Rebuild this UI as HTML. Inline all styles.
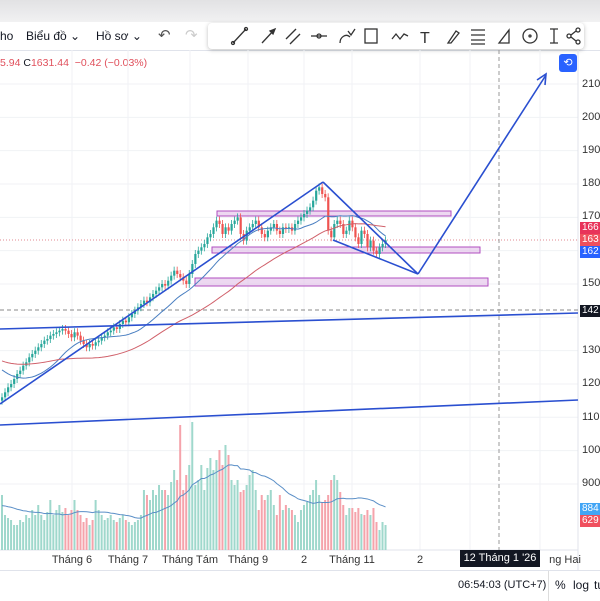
<!DOCTYPE html>
<html><head><meta charset="utf-8"><style>
body{margin:0;width:600px;height:600px;overflow:hidden;background:#fff;font-family:"Liberation Sans","Noto Sans CJK SC",sans-serif;position:relative}
.abs{position:absolute}
.ax{position:absolute;left:582px;font-size:11px;color:#333}
.badge{position:absolute;left:580px;width:22px;height:12px;font-size:10px;color:#fff;line-height:12px;padding-left:2px}
.xl{position:absolute;top:554px;font-size:11px;color:#333;transform:translateX(-50%)}
</style></head><body>
<div class="abs" style="left:0;top:0;width:600px;height:22px;background:linear-gradient(#e2e2e4,#f1f1f2)"></div>
<div class="abs" style="left:0;top:22px;width:600px;height:28px;background:#fff;border-bottom:1px solid #e0e3eb;font-size:12px;color:#131722">
 <span class="abs" style="left:0;top:7px">ho</span>
 <span class="abs" style="left:26px;top:7px">Biểu đồ ⌄</span>
 <span class="abs" style="left:96px;top:7px">Hồ sơ ⌄</span>
 <span class="abs" style="left:158px;top:4px;font-size:15px;color:#555">↶</span>
 <span class="abs" style="left:185px;top:4px;font-size:15px;color:#ccc">↷</span>
</div>
<div class="abs" style="left:208px;top:23px;width:376px;height:26px;background:#fff;border-radius:4px;box-shadow:0 1px 4px rgba(0,0,0,.25);font-size:16px;color:#333">
<svg width="376" height="26" stroke="#333" fill="none" stroke-width="1.3">
<g><line x1="25" y1="20" x2="38" y2="6"/><circle cx="25" cy="20" r="1.5"/><circle cx="38" cy="6" r="1.5"/></g>
<g><line x1="54" y1="20" x2="67" y2="6"/><path d="M62 8l5-2-2 5z" fill="#333"/></g>
<g><line x1="78" y1="16" x2="88" y2="6"/><line x1="82" y1="21" x2="92" y2="11"/></g>
<g><line x1="103" y1="13" x2="119" y2="13"/><circle cx="111" cy="13" r="2"/></g>
<g><path d="M132 20c0-6 6-10 10-6M140 8l3 4 4-6"/></g>
<g><rect x="157" y="6" width="12" height="14"/></g>
<g><path d="M184 16l4-5 4 5 4-5 4 2"/></g>
<g><text x="212" y="20" font-size="16" fill="#333" stroke="none">T</text></g>
<g><path d="M240 20l8-12 3 2-8 10z"/></g>
<g><path d="M263 7h14M263 12h14M263 17h14M263 21h14"/></g>
<g><path d="M291 20l10-13v13z"/></g>
<g><circle cx="322" cy="13" r="7"/><circle cx="322" cy="13" r="1"/></g>
<g><path d="M342 6h8M346 6v14M342 20h8"/></g>
<g><circle cx="361" cy="13" r="2"/><circle cx="370" cy="7" r="2"/><circle cx="370" cy="19" r="2"/><path d="M363 12l5-4M363 14l5 4"/></g>
</svg></div>
<div class="abs" style="left:0;top:57px;font-size:10.5px;color:#e0505c">5.94 <span style="color:#131722">C</span>1631.44 &nbsp;−0.42 (−0.03%)</div>
<div class="abs" style="left:559px;top:54px;width:18px;height:18px;background:#2962ff;border-radius:3px;color:#fff;font-size:11px;text-align:center;line-height:18px">⟲</div>

<svg id="chart" class="abs" style="left:0;top:0" width="600" height="600"></svg>

<div class="ax" style="top:78px">210</div><div class="ax" style="top:111px">200</div><div class="ax" style="top:144px">190</div><div class="ax" style="top:177px">180</div><div class="ax" style="top:210px">170</div><div class="ax" style="top:277px">150</div><div class="ax" style="top:344px">130</div><div class="ax" style="top:377px">120</div><div class="ax" style="top:411px">110</div><div class="ax" style="top:444px">100</div><div class="ax" style="top:477px">900</div>
<div class="badge" style="top:222px;background:#e8335a">166</div>
<div class="badge" style="top:234px;background:#f0505e">163</div>
<div class="badge" style="top:246px;background:#2962ff">162</div>
<div class="badge" style="top:305px;background:#131722">142</div>
<div class="badge" style="top:503px;background:#42a5f5">884</div>
<div class="badge" style="top:515px;background:#f0505e">629</div>

<div class="xl" style="left:72px">Tháng 6</div><div class="xl" style="left:128px">Tháng 7</div><div class="xl" style="left:190px">Tháng Tám</div><div class="xl" style="left:248px">Tháng 9</div><div class="xl" style="left:304px">2</div><div class="xl" style="left:352px">Tháng 11</div><div class="xl" style="left:420px">2</div>
<div class="xl" style="left:565px">ng Hai</div>
<div class="abs" style="left:460px;top:550px;width:80px;height:17px;background:#131722;color:#fff;font-size:11px;line-height:17px;text-align:center">12 Tháng 1 '26</div>
<div class="abs" style="left:0;top:570px;width:600px;height:30px;border-top:1px solid #e0e3eb;background:#fff;font-size:11px;color:#131722">
 <span class="abs" style="left:458px;top:8px">06:54:03 (UTC+7)</span>
 <span class="abs" style="left:548px;top:0;height:30px;border-left:1px solid #ddd"></span>
 <span class="abs" style="left:555px;top:7px;font-size:12px">%</span>
 <span class="abs" style="left:573px;top:7px;font-size:12px">log</span>
 <span class="abs" style="left:594px;top:7px;font-size:12px">tự</span>
</div>
<script>
const history=[1330,1335,1320,1310,1325,1330,1315,1300,1310,1320,1305,1295,1300,1290,1280,1285,1270,1275,1260,1250,1255,1240,1230,1235,1220,1210,1215,1200,1190,1180];
const closes=[1160,1175,1190,1200,1215,1230,1240,1255,1265,1280,1290,1300,1310,1320,1330,1335,1345,1350,1355,1360,1365,
1360,1350,1340,1355,1345,1330,1320,1310,1320,1315,1325,1330,
1340,1345,1355,1360,1370,1365,1380,1390,1385,1400,1410,1420,1430,1440,1450,1445,1460,1470,1480,1490,1500,1495,1510,1525,1540,1530,1520,1510,1500,1530,
1560,1590,1600,1610,1620,1640,1650,1670,1690,1680,
1650,1670,1660,1680,1690,1700,1650,1630,1660,1670,1680,1690,1670,1650,1640,1660,1670,1680,1660,1650,1670,1665,1670,1660,1680,1690,1700,1710,
1720,1730,1750,1780,1790,1770,1760,1660,1640,1680,
1690,1680,1650,1660,1690,1670,1640,1620,1660,1650,1610,1630,1600,1590,1610,1620,1631];
const volumes=[55,35,32,30,25,25,30,28,35,32,40,35,45,35,30,38,50,35,40,45,38,42,35,40,50,40,35,28,32,25,30,50,40,35,30,32,35,30,28,32,35,30,28,25,28,30,35,60,55,50,60,55,65,60,60,55,68,80,70,125,60,75,85,128,65,70,85,60,82,92,80,90,100,85,105,95,70,65,70,58,60,65,75,80,60,40,55,50,55,60,45,35,55,40,45,42,40,35,28,40,45,48,55,60,70,55,48,50,55,70,75,70,58,45,35,42,42,38,42,36,35,40,35,42,28,20,28,25];
const volHistory=[45,42,48,40,44,46,43,45,41,47,44,42,46,43,45,40,44,46,42,45];
const all=history.concat(closes);const H=history.length;
function ma(n,i){let s=0,c=0;for(let k=Math.max(0,H+i-n+1);k<=H+i;k++){s+=all[k];c++;}return s/c;}
const svg=document.getElementById('chart');const NS='http://www.w3.org/2000/svg';
const py=p=>84+(2100-p)*0.3333;
const xs=i=>2+i*3.02;
const vy=v=>550-v;
function mk(t,a){const e=document.createElementNS(NS,t);for(const k in a)e.setAttribute(k,a[k]);svg.appendChild(e);return e;}
for(let p=900;p<=2100;p+=100){const g=mk('line',{x1:0,x2:578,y1:py(p),y2:py(p),stroke:'#f0f2f5'});

}
[72,128,190,248,304,352,420,470,540].forEach(x=>{const g=mk('line',{x1:x,x2:x,y1:50,y2:550,stroke:'#f0f2f5'});

});
mk('line',{x1:0,x2:578,y1:550,y2:550,stroke:'#e0e3eb'});
mk('line',{x1:578,x2:578,y1:50,y2:570,stroke:'#e0e3eb'});
[[217,211,234,5],[212,247,268,6],[195,278,293,8]].forEach(b=>{const r=mk('rect',{x:b[0],y:b[1],width:b[2],height:b[3],fill:'rgba(225,190,231,0.6)',stroke:'#b04ec0','stroke-width':1});

});
mk('line',{x1:0,x2:578,y1:240,y2:240,stroke:'#e08890','stroke-dasharray':'1 2'});
mk('line',{x1:0,x2:578,y1:310,y2:310,stroke:'#888','stroke-dasharray':'4 3'});
mk('line',{x1:499,x2:499,y1:50,y2:550,stroke:'#999','stroke-dasharray':'4 3'});
volumes.forEach((v,i)=>{const up=i===0?true:closes[i]>=closes[i-1];
const b=mk('rect',{x:xs(i)-1,y:vy(v),width:2,height:v,fill:up?'#9fd8cc':'#f5a3ab'});

});
const vall=volHistory.concat(volumes);const VH=volHistory.length;
let vp='';volumes.forEach((v,i)=>{let s=0;for(let k=VH+i-19;k<=VH+i;k++){s+=vall[k];}vp+=(i?'L':'M')+xs(i)+' '+vy(s/20);});
const vm=mk('path',{d:vp,fill:'none',stroke:'#5b8fc7','stroke-width':1});


closes.forEach((c,i)=>{const o=i?closes[i-1]:c-10;const up=c>=o;const col=up?'#26a69a':'#ef5350';
const hi=Math.max(o,c)+12,lo=Math.min(o,c)-12;
mk('line',{x1:xs(i),x2:xs(i),y1:py(hi),y2:py(lo),stroke:col,'stroke-width':0.8});
const r=mk('rect',{x:xs(i)-1,y:py(Math.max(o,c)),width:2.2,height:Math.max(1,Math.abs(o-c)*0.333),fill:col});

});
let p1='',p2='';closes.forEach((c,i)=>{p1+=(i?'L':'M')+xs(i)+' '+py(ma(20,i));p2+=(i?'L':'M')+xs(i)+' '+py(ma(50,i));});
const m1=mk('path',{d:p1,fill:'none',stroke:'#4a7fc1','stroke-width':1});


const m2=mk('path',{d:p2,fill:'none',stroke:'#d0606a','stroke-width':1});


const blue='#2a4fd0';
[[0,329,578,313],[0,425,578,400],[0,404,323,182],[323,182,418,274],[418,274,546,75],[333,240,418,274]].forEach(l=>{const e=mk('line',{x1:l[0],y1:l[1],x2:l[2],y2:l[3],stroke:blue,'stroke-width':1.6});

});
const ar=mk('path',{d:'M537 80L546 74L545 85',fill:'none',stroke:blue,'stroke-width':1.6});


</script>
</body></html>
